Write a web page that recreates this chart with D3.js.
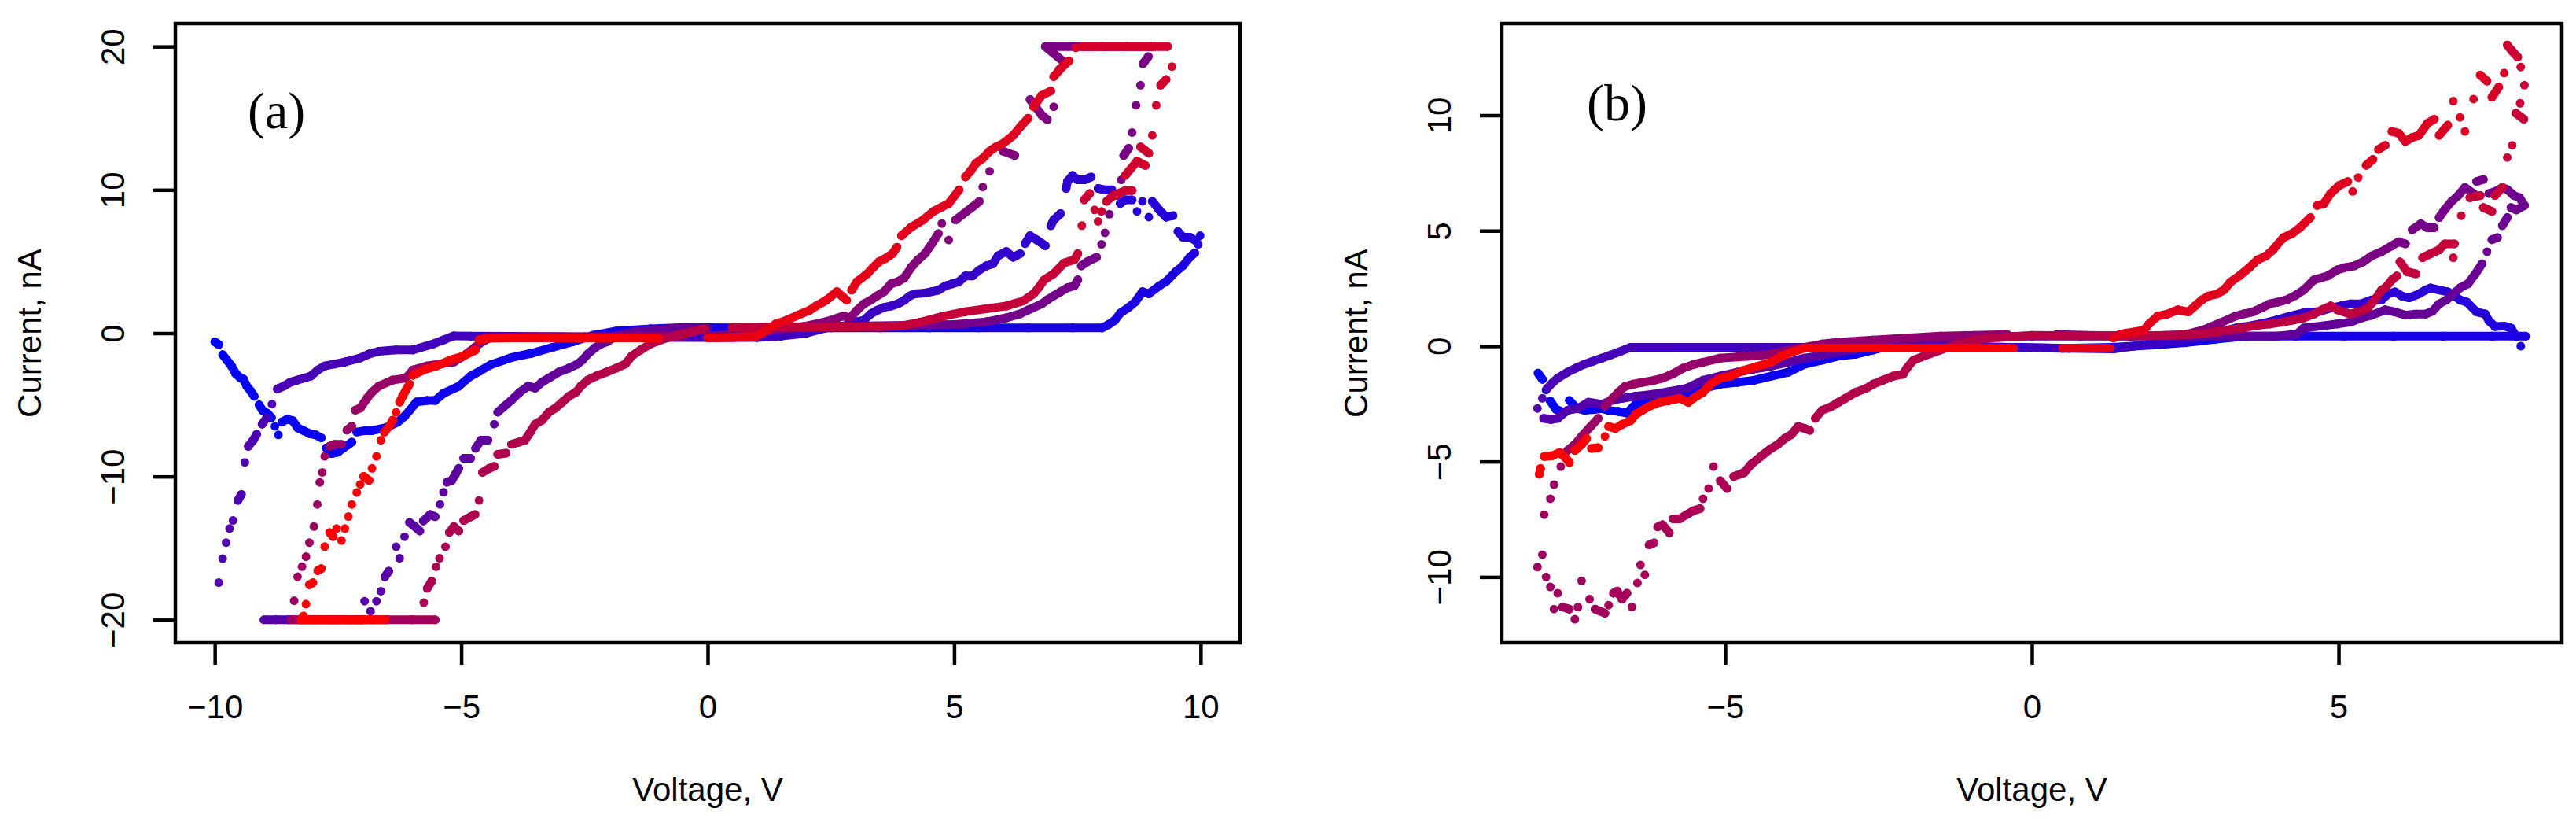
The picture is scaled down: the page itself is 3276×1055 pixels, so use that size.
<!DOCTYPE html>
<html>
<head>
<meta charset="utf-8">
<script src="https://cdn.jsdelivr.net/npm/d3@7"></script>
<style>
  body { margin: 0; background: #fff; }
  text { font-family: 'Liberation Sans', Arial, sans-serif; }
</style>
</head>
<body>
<div id="chart"></div>
<script>

// I-V sweeps, [voltage V, current nA], in time order.
// Panel (a)
var a1 = [[-10.0,-0.6],[-9.92,-0.8],[-9.84,-1.5],[-9.75,-1.9],[-9.66,-2.3],[-9.58,-2.8],[-9.49,-3.1],[-9.42,-3.2],[-9.35,-3.7],[-9.28,-4.0],[-9.2,-4.4],[-9.1,-5.0],[-9.03,-5.4],[-8.93,-5.6],[-8.85,-5.9],[-8.78,-6.5],[-8.71,-7.1],[-8.64,-6.2],[-8.53,-6.0],[-8.42,-6.1],[-8.32,-6.6],[-8.2,-6.8],[-8.08,-7.0],[-7.95,-7.1],[-7.84,-7.3],[-7.74,-8.0],[-7.63,-8.4],[-7.5,-8.3],[-7.39,-8.0],[-7.3,-7.8],[-7.22,-7.6],[-7.12,-6.9],[-6.95,-6.8],[-6.81,-6.8],[-6.53,-6.6],[-6.29,-6.2],[-6.15,-5.8],[-6.05,-5.4],[-5.91,-4.8],[-5.7,-4.7],[-5.53,-4.7],[-5.36,-4.2],[-5.05,-3.7],[-4.81,-3.0],[-4.6,-2.6],[-4.4,-2.2],[-3.98,-1.7],[-3.57,-1.4],[-3.16,-1.0],[-2.74,-0.6],[-2.33,-0.15],[-1.85,0.15],[-1.16,0.3],[-0.47,0.4],[0.5,0.37],[1.5,0.37],[2.5,0.37],[3.5,0.37],[4.5,0.37],[5.5,0.37],[6.5,0.37],[7.4,0.37],[8.0,0.37],[8.13,0.6],[8.26,0.9],[8.37,1.4],[8.54,1.8],[8.68,2.2],[8.82,2.9],[8.95,2.75],[9.16,3.3],[9.3,3.6],[9.5,4.3],[9.64,4.7],[9.78,5.3],[9.88,5.6],[9.95,6.2],[9.99,6.8]];
var a2 = [[9.92,6.4],[9.78,6.7],[9.64,6.7],[9.54,7.1],[9.44,8.2],[9.3,8.1],[9.16,8.6],[9.02,9.2],[8.95,8.1],[8.82,9.2],[8.71,8.5],[8.61,9.3],[8.47,9.3],[8.37,9.05],[8.2,10.0],[8.06,10.0],[7.92,10.1],[7.78,10.9],[7.64,10.7],[7.51,10.7],[7.4,11.0],[7.3,10.6],[7.27,10.1],[7.16,8.35],[7.02,7.9],[6.96,7.5],[6.85,6.1],[6.68,6.5],[6.54,6.8],[6.44,6.25],[6.34,5.55],[6.2,5.3],[6.06,5.7],[5.89,5.4],[5.79,4.85],[5.65,4.7],[5.51,4.4],[5.37,4.0],[5.23,4.0],[5.1,3.6],[4.96,3.45],[4.82,3.3],[4.68,3.0],[4.55,2.9],[4.41,2.8],[4.2,2.75],[4.1,2.6],[3.99,2.3],[3.86,2.05],[3.72,1.9],[3.58,1.8],[3.44,1.6],[3.31,1.35],[3.17,0.9],[3.03,0.8],[2.75,0.5],[2.41,0.37],[2.0,0.0],[1.5,-0.2],[1.0,-0.3],[0.0,-0.3],[-1.0,-0.3],[-2.0,-0.28],[-3.0,-0.25],[-4.0,-0.22],[-4.8,-0.2],[-5.15,-0.19],[-5.36,-0.47],[-5.57,-0.75],[-5.98,-1.17],[-6.32,-1.17],[-6.67,-1.26],[-6.87,-1.45],[-7.05,-1.73],[-7.36,-2.01],[-7.56,-2.15],[-7.77,-2.29],[-7.91,-2.57],[-8.05,-2.99],[-8.18,-3.13],[-8.32,-3.27],[-8.46,-3.41],[-8.6,-3.69],[-8.73,-3.89],[-8.84,-4.95],[-8.95,-5.93],[-9.04,-6.35],[-9.15,-7.05],[-9.22,-7.47],[-9.32,-7.89],[-9.39,-9.01],[-9.46,-11.25],[-9.53,-11.67],[-9.63,-13.07],[-9.7,-13.63],[-9.77,-14.61],[-9.84,-15.73],[-9.92,-17.4]];
var a3 = [[-9.0,-20],[-8.75,-20],[-8.5,-20],[-7.25,-20],[-7.03,-20],[-6.96,-18.7],[-6.84,-19.4],[-6.72,-18.7],[-6.63,-18.0],[-6.55,-17.0],[-6.47,-16.6],[-6.32,-14.9],[-6.25,-15.7],[-6.15,-14.2],[-6.05,-13.2],[-5.94,-13.5],[-5.84,-13.8],[-5.77,-13.1],[-5.63,-12.65],[-5.53,-12.8],[-5.43,-11.95],[-5.36,-11.1],[-5.29,-10.4],[-5.19,-10.27],[-5.12,-9.85],[-5.05,-9.43],[-4.95,-8.73],[-4.81,-8.73],[-4.71,-8.03],[-4.6,-7.47],[-4.46,-7.47],[-4.33,-6.35],[-4.26,-5.51],[-4.12,-5.09],[-3.98,-4.67],[-3.81,-4.11],[-3.64,-3.69],[-3.5,-3.83],[-3.36,-3.41],[-3.22,-3.13],[-3.02,-2.71],[-2.81,-2.43],[-2.64,-2.15],[-2.54,-1.87],[-2.43,-1.45],[-2.29,-1.03],[-2.16,-0.75],[-2.05,-0.61],[-1.85,-0.19],[-1.5,0.09],[-0.81,0.31],[0.0,0.35]];
var a4 = [[1.0,0.4],[2.0,0.45],[3.0,0.5],[4.0,0.55],[5.0,0.6],[5.65,0.79],[6.06,1.07],[6.34,1.35],[6.51,1.63],[6.78,2.05],[6.89,2.33],[7.02,2.61],[7.16,2.89],[7.3,3.17],[7.44,3.31],[7.51,3.73],[7.58,4.7],[7.71,5.0],[7.89,5.3],[7.99,6.2],[8.06,7.0],[8.15,8.3],[8.3,9.6],[8.39,10.7],[8.44,12.4],[8.54,12.9],[8.61,14.0],[8.69,15.9],[8.78,17.3],[8.83,18.8],[8.94,19.3],[9.0,20],[8.5,20],[8.0,20],[7.5,20],[7.0,20],[6.85,20],[7.2,19.0],[7.13,18.4],[7.02,15.8],[6.89,14.9],[6.78,15.2],[6.54,16.3],[6.34,14.4],[6.23,12.4],[5.99,12.7],[5.72,11.3],[5.58,10.2],[5.51,9.2],[5.37,8.8],[5.03,7.9],[4.89,6.5],[4.75,7.65],[4.68,6.95],[4.55,6.25],[4.41,5.55],[4.27,5.13],[4.13,4.6],[3.99,3.87],[3.86,3.6],[3.72,3.45],[3.58,2.9],[3.44,2.61],[3.31,2.3],[3.17,2.05],[3.03,1.6],[2.89,1.07],[2.75,1.2],[2.4,0.8],[2.0,0.5],[1.5,0.3],[1.0,0.1],[0.5,-0.1],[0.0,-0.2]];
var a5 = [[-0.5,-0.2],[-1.5,-0.25],[-2.5,-0.25],[-3.5,-0.25],[-4.4,-0.3],[-4.57,-0.6],[-4.74,-1.03],[-4.95,-1.59],[-5.15,-2.01],[-5.43,-2.15],[-5.7,-2.29],[-5.98,-2.57],[-6.12,-3.13],[-6.39,-3.27],[-6.67,-3.69],[-6.81,-4.11],[-6.91,-4.53],[-7.05,-5.23],[-7.15,-5.37],[-7.22,-6.49],[-7.32,-6.77],[-7.43,-7.75],[-7.56,-7.75],[-7.67,-7.89],[-7.77,-8.59],[-7.82,-9.71],[-7.87,-10.41],[-7.92,-11.95],[-7.99,-13.49],[-8.08,-14.61],[-8.15,-15.59],[-8.23,-16.29],[-8.32,-16.99],[-8.39,-18.67],[-8.45,-20],[-8.0,-20],[-7.5,-20],[-7.0,-20],[-6.5,-20],[-6.0,-20],[-5.53,-20]];
var a6 = [[-5.76,-18.8],[-5.69,-17.8],[-5.6,-17.3],[-5.51,-16.3],[-5.44,-15.7],[-5.32,-14.9],[-5.24,-13.9],[-5.15,-13.5],[-5.05,-13.8],[-4.95,-13.07],[-4.81,-12.8],[-4.72,-12.65],[-4.64,-11.67],[-4.57,-9.71],[-4.43,-9.43],[-4.33,-9.29],[-4.26,-8.45],[-4.09,-8.37],[-3.98,-7.75],[-3.84,-7.61],[-3.71,-7.47],[-3.6,-6.91],[-3.5,-6.35],[-3.36,-6.07],[-3.22,-5.51],[-3.09,-5.23],[-2.95,-4.81],[-2.81,-4.39],[-2.67,-4.11],[-2.57,-3.69],[-2.43,-3.27],[-2.26,-2.99],[-2.05,-2.71],[-1.85,-2.43],[-1.67,-2.15],[-1.54,-1.59],[-1.36,-1.17],[-1.16,-0.75],[-0.95,-0.47],[-0.68,-0.19],[-0.33,0.09],[-0.06,0.31]];
var a7 = [[0.5,0.4],[1.5,0.42],[2.5,0.43],[3.5,0.45],[3.9,0.5],[4.3,0.75],[4.8,1.2],[5.23,1.5],[5.65,1.7],[6.06,1.9],[6.4,2.25],[6.61,2.75],[6.72,3.2],[6.82,3.7],[7.02,4.15],[7.23,4.9],[7.44,5.13],[7.51,5.55],[7.59,7.5],[7.64,9.3],[7.75,9.75],[7.85,8.6],[7.92,7.8],[7.99,8.5],[8.09,9.2],[8.23,9.6],[8.47,9.95],[8.61,9.95],[8.47,11.0],[8.71,12.0],[8.88,11.7],[8.78,13.0],[8.95,12.55],[9.02,13.8],[9.1,15.9],[9.19,17.3],[9.3,17.7],[9.42,18.6],[9.33,20],[9.0,20],[8.5,20],[8.0,20],[7.6,20]];
var a8 = [[7.47,19.9],[7.33,19.0],[7.2,18.6],[7.02,17.9],[6.96,16.9],[6.78,16.6],[6.61,15.8],[6.5,15.0],[6.37,14.5],[6.2,13.8],[6.0,13.25],[5.85,13.0],[5.72,12.7],[5.58,12.2],[5.44,11.85],[5.33,11.3],[5.23,10.9],[5.1,10.0],[4.89,9.05],[4.75,8.8],[4.58,8.5],[4.37,7.9],[4.13,7.4],[3.93,6.8],[3.84,6.0],[3.75,5.55],[3.6,5.2],[3.48,5.0],[3.36,4.6],[3.24,4.15],[3.03,3.6],[2.92,3.0],[2.82,2.3],[2.72,2.6],[2.62,2.9],[2.41,2.3],[2.2,1.9],[2.07,1.6],[1.79,1.2],[1.6,0.9],[1.38,0.65],[1.2,0.2],[1.0,-0.2],[0.5,-0.3],[0.0,-0.33]];
var a9 = [[-1.0,-0.33],[-2.0,-0.33],[-3.0,-0.33],[-4.0,-0.33],[-4.5,-0.35],[-4.64,-0.47],[-4.71,-1.17],[-4.95,-1.59],[-5.22,-1.87],[-5.5,-2.29],[-5.77,-2.57],[-5.98,-2.94],[-6.05,-3.55],[-6.12,-3.97],[-6.19,-4.39],[-6.25,-4.81],[-6.32,-5.51],[-6.39,-6.07],[-6.46,-6.49],[-6.56,-6.91],[-6.63,-7.47],[-6.72,-8.59],[-6.81,-9.43],[-6.87,-10.27],[-6.98,-9.99],[-7.05,-10.55],[-7.12,-11.11],[-7.22,-11.95],[-7.29,-12.79],[-7.36,-13.63],[-7.43,-14.47],[-7.53,-13.63],[-7.6,-14.19],[-7.67,-13.91],[-7.77,-14.89],[-7.84,-16.43],[-7.91,-16.57],[-8.01,-17.41],[-8.08,-17.55],[-8.15,-18.9],[-8.2,-19.74],[-8.25,-20],[-7.9,-20],[-7.6,-20],[-7.3,-20],[-7.1,-20],[-6.8,-20],[-6.55,-20]];

// Panel (b)
var b1 = [[-8.05,-1.17],[-7.98,-1.44],[-7.92,-1.9],[-7.85,-2.38],[-7.76,-2.73],[-7.65,-2.85],[-7.54,-2.35],[-7.42,-2.7],[-7.29,-2.78],[-7.15,-2.75],[-7.01,-2.7],[-6.88,-2.8],[-6.74,-2.83],[-6.6,-2.9],[-6.46,-2.52],[-6.3,-2.3],[-6.18,-2.17],[-5.91,-2.35],[-5.63,-2.17],[-5.36,-1.83],[-5.08,-1.65],[-4.8,-1.57],[-4.53,-1.48],[-4.25,-1.3],[-3.97,-1.13],[-3.7,-0.78],[-3.42,-0.61],[-3.15,-0.43],[-2.87,-0.35],[-2.59,-0.17],[-2.32,0.0],[-2.04,0.09],[-1.2,0.0],[-0.4,-0.05],[0.5,-0.1],[1.3,-0.05],[2.0,0.05],[2.5,0.15],[3.0,0.3],[3.5,0.43],[4.3,0.43],[5.1,0.43],[5.9,0.43],[6.7,0.43],[7.5,0.43],[8.05,0.43]];
var b2 = [[7.97,0.0],[7.9,0.4],[7.81,0.78],[7.7,0.87],[7.55,0.85],[7.45,1.1],[7.39,1.39],[7.25,1.48],[7.09,1.91],[6.98,2.0],[6.89,2.17],[6.78,2.35],[6.64,2.43],[6.5,2.52],[6.42,2.43],[6.31,2.26],[6.15,2.09],[6.03,2.17],[5.92,2.35],[5.81,2.26],[5.7,2.0],[5.54,2.0],[5.37,1.83],[5.2,1.83],[5.04,1.74],[4.87,1.65],[4.71,1.51],[4.43,1.44],[4.21,1.3],[3.99,1.13],[3.77,0.99],[3.54,0.87],[3.32,0.78],[3.05,0.61],[2.77,0.43],[2.49,0.26],[2.21,0.17],[1.94,0.09],[1.66,0.0],[1.33,-0.12],[0.6,-0.1],[-0.2,-0.05],[-1.0,-0.05],[-1.8,-0.05],[-2.6,-0.05],[-3.4,-0.05],[-4.2,-0.05],[-5.0,-0.05],[-5.8,-0.05],[-6.54,-0.05],[-6.74,-0.26],[-6.88,-0.4],[-7.01,-0.52],[-7.15,-0.65],[-7.29,-0.78],[-7.43,-0.95],[-7.57,-1.13],[-7.73,-1.39],[-7.82,-1.6],[-7.9,-1.83],[-7.98,-2.26]];
var b3 = [[-8.06,-2.7],[-7.96,-3.13],[-7.84,-3.18],[-7.73,-3.13],[-7.57,-2.78],[-7.4,-2.7],[-7.23,-2.43],[-7.01,-2.52],[-6.85,-2.35],[-6.68,-2.26],[-6.46,-2.17],[-6.18,-2.09],[-5.91,-1.97],[-5.63,-1.83],[-5.36,-1.48],[-5.08,-1.3],[-4.8,-1.13],[-4.53,-0.99],[-4.25,-0.87],[-3.97,-0.7],[-3.7,-0.52],[-3.42,-0.4],[-3.15,-0.26],[-2.87,-0.12],[-2.59,0.0],[-2.04,0.17],[-1.49,0.3],[-0.94,0.4],[0.0,0.43],[0.8,0.43],[1.6,0.43],[2.4,0.43],[3.2,0.43],[4.0,0.43],[4.32,0.52],[4.43,0.78],[4.71,0.87],[4.98,0.96],[5.2,1.04],[5.37,1.22],[5.54,1.34],[5.76,1.57],[5.92,1.48],[6.09,1.34],[6.26,1.39],[6.42,1.39],[6.53,1.51],[6.64,1.83],[6.76,2.0],[6.87,2.26],[6.98,2.52],[7.11,2.7],[7.23,3.13],[7.34,3.57],[7.42,4.09],[7.5,4.61],[7.59,4.7],[7.67,5.22],[7.75,5.57],[7.81,6.0],[7.9,5.9],[8.03,6.09],[7.95,6.43],[7.86,6.52],[7.75,6.78],[7.67,6.87],[7.56,6.7],[7.45,6.61],[7.36,7.22],[7.25,7.13],[7.2,6.61],[7.06,6.87],[6.95,6.52],[6.84,6.26],[6.73,5.91],[6.64,5.57],[6.56,5.13],[6.45,5.13],[6.34,5.3],[6.2,5.04],[6.09,4.43],[5.98,4.52],[5.87,4.35],[5.7,4.09],[5.54,3.91],[5.4,3.65],[5.26,3.48],[5.1,3.4],[4.98,3.3],[4.82,3.04],[4.6,2.87],[4.43,2.43],[4.3,2.2],[4.15,2.0],[4.0,1.9],[3.88,1.83],[3.74,1.65],[3.6,1.48],[3.46,1.4],[3.32,1.3],[3.1,1.04],[2.8,0.7],[2.5,0.5],[2.0,0.45],[1.2,0.45],[0.4,0.5]];
var b4 = [[-0.4,0.5],[-0.94,0.47],[-1.49,0.43],[-2.04,0.35],[-2.59,0.26],[-3.15,0.17],[-3.42,0.09],[-3.7,-0.05],[-3.97,-0.17],[-4.25,-0.35],[-4.53,-0.43],[-4.8,-0.47],[-5.08,-0.52],[-5.36,-0.7],[-5.52,-0.8],[-5.69,-0.96],[-5.85,-1.2],[-6.02,-1.39],[-6.18,-1.5],[-6.35,-1.57],[-6.5,-1.65],[-6.63,-1.74],[-6.74,-2.0],[-6.85,-2.3],[-6.96,-2.6],[-7.07,-3.13],[-7.2,-3.5],[-7.34,-3.91],[-7.45,-4.26],[-7.57,-4.52],[-7.68,-5.22],[-7.79,-6.0],[-7.85,-6.61],[-7.95,-7.3],[-7.98,-9.04],[-8.06,-9.57]];
var b5 = [[-7.92,-10.0],[-7.85,-10.43],[-7.79,-11.39],[-7.73,-10.7],[-7.65,-11.3],[-7.54,-11.39],[-7.45,-11.83],[-7.4,-11.3],[-7.34,-10.17],[-7.21,-10.96],[-7.12,-11.39],[-7.04,-11.48],[-6.96,-11.57],[-6.9,-11.22],[-6.82,-10.7],[-6.76,-10.61],[-6.68,-10.96],[-6.6,-10.7],[-6.52,-11.3],[-6.43,-10.26],[-6.38,-9.48],[-6.31,-9.91],[-6.24,-8.61],[-6.16,-8.52],[-6.1,-7.83],[-6.02,-7.74],[-5.91,-8.09],[-5.85,-7.48],[-5.74,-7.48],[-5.63,-7.3],[-5.52,-7.13],[-5.41,-7.04],[-5.36,-6.61],[-5.27,-6.17],[-5.19,-5.22],[-5.08,-5.83],[-4.97,-6.17],[-4.86,-5.65],[-4.69,-5.48],[-4.58,-5.13],[-4.42,-4.78],[-4.25,-4.43],[-4.14,-4.26],[-4.03,-4.0],[-3.92,-3.83],[-3.81,-3.48],[-3.7,-3.57],[-3.62,-3.65],[-3.53,-3.13],[-3.42,-2.78],[-3.26,-2.61],[-3.15,-2.43],[-3.04,-2.26],[-2.87,-2.0],[-2.7,-1.83],[-2.59,-1.65],[-2.43,-1.48],[-2.26,-1.3],[-2.1,-1.22],[-2.04,-0.96],[-1.93,-0.61],[-1.76,-0.43],[-1.49,-0.17],[-1.21,0.09],[-0.94,0.26],[-0.66,0.35],[-0.38,0.4],[0.0,0.47],[0.8,0.45],[1.6,0.45],[2.3,0.47],[2.66,0.52],[2.99,0.61],[3.21,0.7],[3.43,0.78],[3.6,0.87],[3.88,0.96],[4.1,1.04],[4.26,1.13],[4.43,1.22],[4.6,1.39],[4.75,1.6],[4.87,1.74],[4.98,1.57],[5.18,1.39],[5.32,1.48],[5.48,1.65],[5.59,2.0],[5.7,2.43],[5.76,2.52],[5.87,2.87],[5.95,3.04],[6.0,3.65],[6.12,3.22],[6.26,3.13],[6.37,3.83],[6.5,4.0],[6.64,4.17],[6.73,4.43],[6.89,4.43],[6.87,3.83],[7.0,5.65],[7.14,6.43],[7.31,6.52],[7.36,6.0],[7.5,5.83],[7.55,6.52],[7.67,6.87],[7.75,8.17],[7.83,8.7],[7.89,10.09],[8.02,9.83],[7.96,10.52],[8.03,11.3],[7.97,12.09],[7.92,12.52],[7.83,12.78],[7.75,13.04]];
var b6 = [[7.7,11.83],[7.61,11.22],[7.5,10.78],[7.42,11.48],[7.31,11.74],[7.2,10.7],[7.06,9.3],[6.98,9.91],[6.87,10.61],[6.78,9.57],[6.64,9.13],[6.56,9.83],[6.45,9.65],[6.31,9.13],[6.2,9.04],[6.09,8.87],[5.98,9.22],[5.87,9.3],[5.76,8.7],[5.65,8.52],[5.56,8.09],[5.45,7.83],[5.32,7.3],[5.23,6.7],[5.15,7.13],[5.01,6.96],[4.87,6.61],[4.76,6.17],[4.65,6.09],[4.54,5.57],[4.37,5.13],[4.24,4.87],[4.1,4.7],[3.93,4.17],[3.82,3.91],[3.68,3.74],[3.54,3.39],[3.38,3.04],[3.24,2.78],[3.13,2.43],[3.02,2.26],[2.88,2.17],[2.77,2.0],[2.66,1.74],[2.55,1.48],[2.38,1.57],[2.21,1.39],[2.05,1.3],[1.91,0.96],[1.83,0.7],[1.66,0.61],[1.44,0.52],[1.33,0.35],[1.27,-0.09],[0.5,-0.09]];
var b7 = [[-0.3,-0.09],[-1.1,-0.09],[-1.9,-0.09],[-2.7,-0.09],[-3.5,-0.09],[-3.7,-0.09],[-3.92,-0.26],[-4.08,-0.43],[-4.25,-0.7],[-4.47,-0.87],[-4.69,-1.04],[-4.91,-1.3],[-5.08,-1.39],[-5.24,-1.65],[-5.36,-2.0],[-5.52,-2.26],[-5.6,-2.43],[-5.74,-2.26],[-5.91,-2.35],[-6.07,-2.43],[-6.24,-2.61],[-6.35,-2.78],[-6.46,-2.96],[-6.54,-3.22],[-6.68,-3.39],[-6.79,-3.57],[-6.9,-3.48],[-6.96,-3.91],[-7.07,-4.4],[-7.18,-4.43],[-7.26,-4.0],[-7.34,-4.26],[-7.45,-4.52],[-7.54,-5.04],[-7.59,-4.87],[-7.7,-4.61],[-7.82,-4.75],[-7.95,-4.78],[-8.01,-5.3],[-8.03,-5.55]];

// sweep time of each branch (start, end) as a fraction of the run, sets the colour
var sweepA = [[0, 0.12], [0.14, 0.32], [0.34, 0.4], [0.44, 0.54], [0.57, 0.64], [0.67, 0.72], [0.76, 0.84], [0.86, 0.92], [0.96, 1]];
var sweepB = [[0, 0.1], [0.12, 0.3], [0.32, 0.52], [0.56, 0.62], [0.62, 0.8], [0.85, 0.9], [0.97, 1]];

var xTicksA = [-10, -5, 0, 5, 10];
var yTicksA = [-20, -10, 0, 10, 20];
var xTicksB = [-5, 0, 5];
var yTicksB = [-10, -5, 0, 5, 10];

var xTitle = 'Voltage, V';
var yTitle = 'Current, nA';

var svgWidth = 3276;
var svgHeight = 1055;

var svg = d3.select('#chart').append('svg')
  .attr('width', svgWidth)
  .attr('height', svgHeight);

// blue at the start of the run, red at the end
var color = d3.scaleLinear()
  .domain([0, 1])
  .range(['#0000ff', '#ff0000'])
  .interpolate(d3.interpolateRgb);

var dotR = 5.5;

var drawPanel = function(p) {
  var xScale = d3.scaleLinear().domain(p.xDomain).range([p.left, p.right]);
  var yScale = d3.scaleLinear().domain(p.yDomain).range([p.bottom, p.top]);

  var g = svg.append('g');

  // the sweeps: dots, and where the sweep moves slowly a band between them
  p.branches.forEach(function(pts, b) {
    var t0 = p.sweep[b][0], t1 = p.sweep[b][1];
    var tAt = function(i) { return t0 + (t1 - t0) * i / Math.max(1, pts.length - 1); };
    var bg = g.append('g');

    var links = [];
    for (var i = 1; i < pts.length; i++) {
      var dx = Math.abs(xScale(pts[i][0]) - xScale(pts[i - 1][0]));
      var dy = Math.abs(yScale(pts[i][1]) - yScale(pts[i - 1][1]));
      var dist = Math.sqrt(dx * dx + dy * dy);
      if (dist <= 11 || (dy <= 1.2 * dx + 3 && dist < 170)) links.push(i);
    }

    bg.selectAll('line')
      .data(links)
      .enter()
      .append('line')
      .attr('x1', function(i) { return xScale(pts[i - 1][0]); })
      .attr('y1', function(i) { return yScale(pts[i - 1][1]); })
      .attr('x2', function(i) { return xScale(pts[i][0]); })
      .attr('y2', function(i) { return yScale(pts[i][1]); })
      .attr('stroke', function(i) { return color(tAt(i - 0.5)); })
      .attr('stroke-width', dotR * 2)
      .attr('stroke-linecap', 'round');

    bg.selectAll('circle')
      .data(pts)
      .enter()
      .append('circle')
      .attr('cx', function(d) { return xScale(d[0]); })
      .attr('cy', function(d) { return yScale(d[1]); })
      .attr('r', dotR)
      .attr('fill', function(d, i) { return color(tAt(i)); });
  });

  // box
  g.append('rect')
    .attr('x', p.left)
    .attr('y', p.top)
    .attr('width', p.right - p.left)
    .attr('height', p.bottom - p.top)
    .attr('fill', 'none')
    .attr('stroke', '#000')
    .attr('stroke-width', 4.5);

  // axes
  var xAxis = g.append('g')
    .attr('transform', 'translate(0,' + p.bottom + ')')
    .call(d3.axisBottom(xScale).tickValues(p.xTicks).tickSize(28).tickFormat(d3.format('d')));
  xAxis.select('.domain').remove();
  xAxis.selectAll('line').attr('stroke', '#000').attr('stroke-width', 4.5);
  xAxis.selectAll('text')
    .attr('y', 96)
    .attr('dy', null)
    .attr('fill', '#000')
    .style('font-size', '42px');

  var yAxis = g.append('g')
    .attr('transform', 'translate(' + p.left + ',0)')
    .call(d3.axisLeft(yScale).tickValues(p.yTicks).tickSize(28).tickFormat(d3.format('d')));
  yAxis.select('.domain').remove();
  yAxis.selectAll('line').attr('stroke', '#000').attr('stroke-width', 4.5);
  yAxis.selectAll('text')
    .attr('x', null)
    .attr('dy', null)
    .attr('text-anchor', 'middle')
    .attr('transform', 'translate(-65,0) rotate(-90)')
    .attr('fill', '#000')
    .style('font-size', '42px');

  // titles
  g.append('text')
    .attr('x', (p.left + p.right) / 2)
    .attr('y', 1018)
    .attr('text-anchor', 'middle')
    .style('font-size', '42px')
    .text(xTitle);

  g.append('text')
    .attr('transform', 'translate(' + (p.left - 171) + ',' + (p.top + p.bottom) / 2 + ') rotate(-90)')
    .attr('text-anchor', 'middle')
    .style('font-size', '42px')
    .text(yTitle);

  g.append('text')
    .attr('x', p.left + p.tagDx)
    .attr('y', p.tagY)
    .style('font-family', "'Liberation Serif', 'Times New Roman', serif")
    .style('font-size', '66px')
    .text(p.tag);
};

drawPanel({
  branches: [a1, a2, a3, a4, a5, a6, a7, a8, a9],
  sweep: sweepA,
  xDomain: [-10.8, 10.8], yDomain: [-21.6, 21.6],
  xTicks: xTicksA, yTicks: yTicksA,
  left: 223, right: 1577, top: 30, bottom: 817,
  tag: '(a)', tagDx: 92, tagY: 163
});

drawPanel({
  branches: [b1, b2, b3, b4, b5, b6, b7],
  sweep: sweepB,
  xDomain: [-8.64, 8.64], yDomain: [-12.85, 13.97],
  xTicks: xTicksB, yTicks: yTicksB,
  left: 1910, right: 3258, top: 30, bottom: 817,
  tag: '(b)', tagDx: 108, tagY: 153
});

</script>
</body>
</html>
